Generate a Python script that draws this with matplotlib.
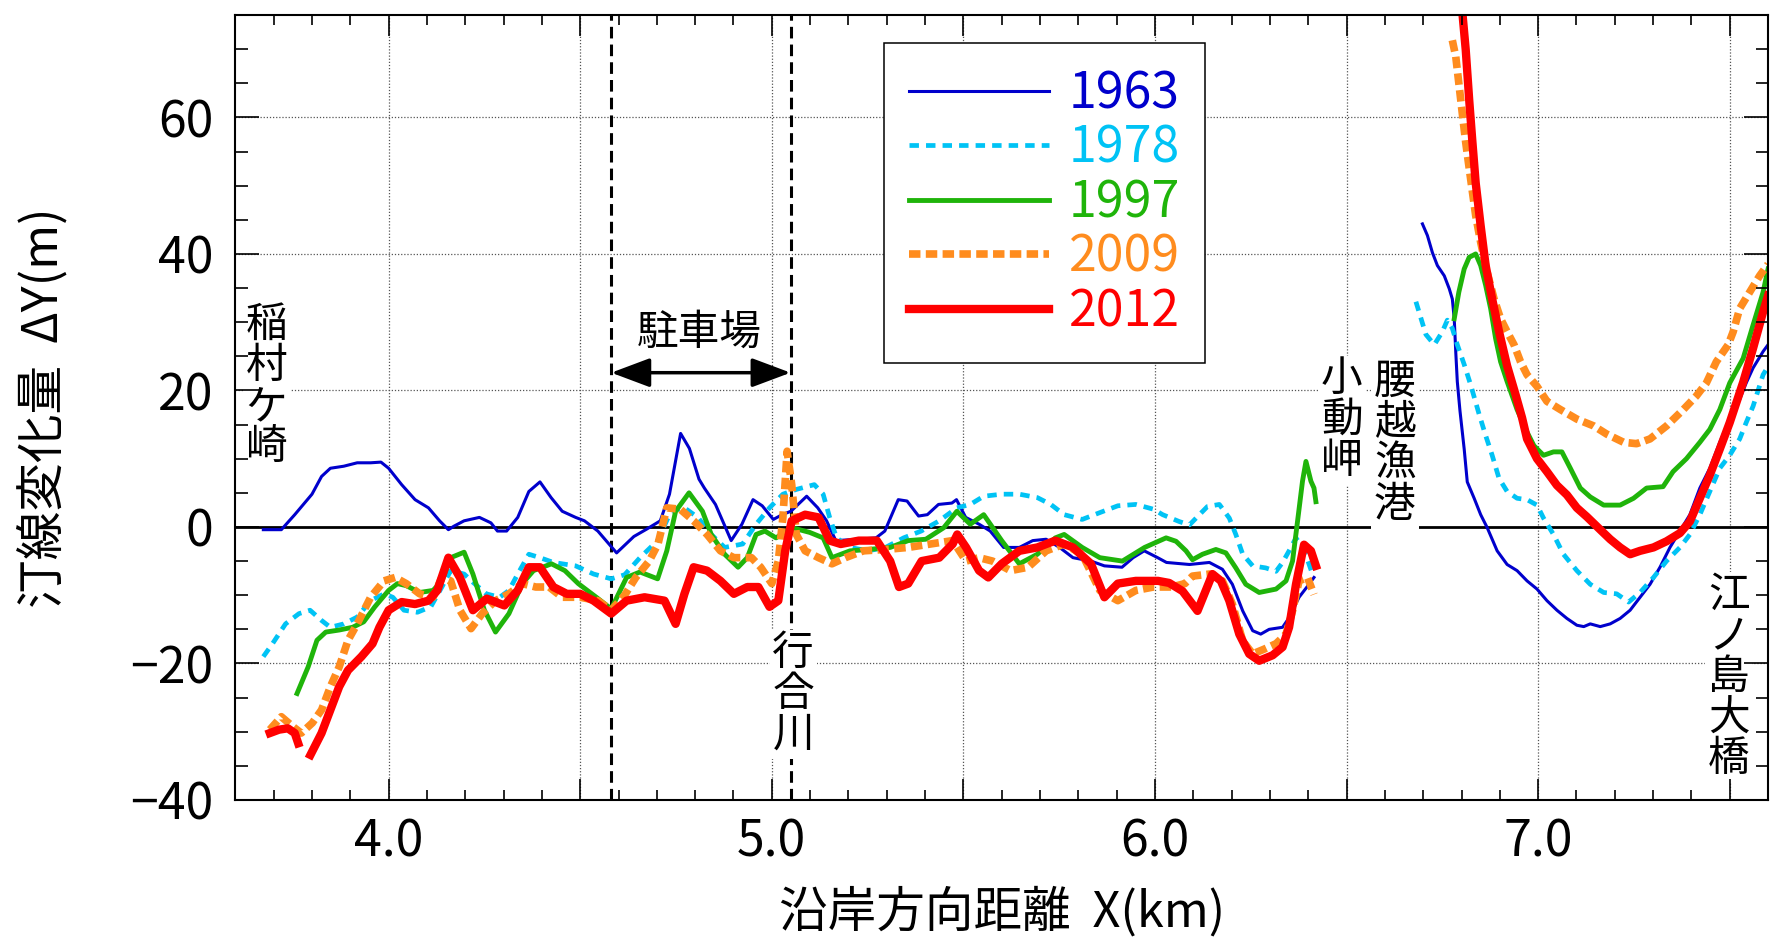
import numpy as np
import matplotlib
matplotlib.use("Agg")
import matplotlib.pyplot as plt
from matplotlib.ticker import MultipleLocator, FuncFormatter

plt.rcParams['font.family'] = ['Noto Sans CJK JP', 'DejaVu Sans']

# 汀線変化量 (x km, dY m) - left = 稲村ケ崎〜小動岬, right = 腰越漁港〜江ノ島大橋
y1963_left = np.array([
    [3.673, -0.4], [3.72, -0.4], [3.755, 1.8], [3.80, 4.8], [3.825, 7.4], [3.848, 8.6],
    [3.883, 8.9], [3.918, 9.4], [3.953, 9.4], [3.98, 9.5], [4.0, 8.6], [4.034, 6.2],
    [4.069, 4.0], [4.104, 2.8], [4.133, 0.9], [4.156, -0.4], [4.17, 0.1], [4.197, 0.9],
    [4.237, 1.4], [4.267, 0.6], [4.284, -0.6], [4.308, -0.6], [4.337, 1.4], [4.366, 5.2],
    [4.395, 6.6], [4.424, 4.3], [4.453, 2.3], [4.488, 1.4], [4.511, 0.9], [4.546, -0.6],
    [4.595, -3.8], [4.64, -1.4], [4.674, -0.3], [4.709, 0.9], [4.733, 4.8], [4.762, 13.7],
    [4.785, 11.5], [4.81, 7.0], [4.824, 5.7], [4.853, 3.3], [4.894, -2.0], [4.922, 0.4],
    [4.951, 4.0], [4.975, 3.1], [5.004, 1.1], [5.027, 1.8], [5.05, 2.3], [5.091, 4.5],
    [5.12, 2.8], [5.143, 0.9], [5.167, -2.0], [5.225, -1.8], [5.272, -1.6], [5.295, -0.6],
    [5.33, 4.0], [5.353, 3.8], [5.383, 1.6], [5.406, 1.8], [5.435, 3.3], [5.47, 3.5],
    [5.482, 4.0], [5.506, 1.4], [5.541, 0.4], [5.57, -0.6], [5.605, -3.0], [5.646, -3.0],
    [5.681, -2.0], [5.716, -1.8], [5.751, -3.0], [5.786, -4.5], [5.833, -5.0], [5.868, -5.7],
    [5.914, -5.9], [5.943, -4.5], [5.972, -3.5], [6.007, -4.5], [6.03, -5.2], [6.09, -5.5],
    [6.142, -5.2], [6.176, -6.2], [6.202, -8.4], [6.229, -12.3], [6.255, -15.2], [6.276, -15.7],
    [6.298, -15.0], [6.333, -14.7], [6.35, -13.3], [6.376, -10.3], [6.402, -8.4], [6.415, -7.4]])
y1963_right = np.array([
    [6.698, 44.4], [6.711, 42.7], [6.724, 40.2], [6.737, 38.3], [6.755, 36.8], [6.768, 34.9],
    [6.776, 33.4], [6.781, 30.5], [6.785, 25.6], [6.789, 21.3], [6.796, 17.0], [6.807, 11.4],
    [6.815, 6.6], [6.833, 4.2], [6.85, 1.8], [6.867, -0.1], [6.893, -3.5], [6.919, -5.5],
    [6.945, -6.4], [6.971, -7.9], [6.997, -9.1], [7.023, -10.8], [7.049, -12.2], [7.075, -13.4],
    [7.101, -14.4], [7.119, -14.6], [7.136, -14.2], [7.162, -14.6], [7.188, -14.2], [7.214, -13.4],
    [7.24, -12.2], [7.266, -10.3], [7.292, -8.4], [7.318, -5.9], [7.344, -3.0], [7.37, -0.6],
    [7.396, 1.8], [7.422, 5.7], [7.448, 8.6], [7.474, 12.4], [7.5, 15.8], [7.526, 18.7],
    [7.543, 21.1], [7.561, 23.3], [7.587, 25.7], [7.6, 26.7]])

y1978_left = np.array([
    [3.673, -19.0], [3.697, -17.1], [3.731, -14.2], [3.766, -12.7], [3.795, -12.2], [3.825, -13.7],
    [3.848, -14.7], [3.883, -14.2], [3.918, -13.2], [3.953, -10.8], [3.988, -9.8], [4.011, -10.3],
    [4.04, -12.2], [4.075, -12.5], [4.11, -11.7], [4.139, -8.8], [4.162, -6.4], [4.197, -6.9],
    [4.22, -8.1], [4.255, -9.8], [4.29, -10.3], [4.314, -9.3], [4.337, -6.9], [4.366, -4.0],
    [4.395, -4.5], [4.43, -5.2], [4.488, -5.7], [4.535, -6.9], [4.581, -7.6], [4.616, -7.0],
    [4.656, -4.5], [4.702, -2.0], [4.737, 2.3], [4.772, 2.8], [4.807, 1.4], [4.842, -1.1],
    [4.877, -3.0], [4.924, -2.5], [4.959, 0.4], [4.994, 2.8], [5.029, 4.8], [5.064, 5.5],
    [5.111, 6.2], [5.134, 4.8], [5.151, 1.4], [5.169, -1.6], [5.204, -3.0], [5.251, -3.5],
    [5.297, -3.0], [5.344, -1.6], [5.39, -0.6], [5.437, 0.9], [5.483, 2.8], [5.518, 3.3],
    [5.553, 4.5], [5.6, 4.8], [5.646, 4.8], [5.693, 4.3], [5.728, 3.3], [5.763, 1.8],
    [5.81, 1.1], [5.856, 2.1], [5.903, 3.1], [5.95, 3.3], [5.996, 2.6], [6.02, 1.8],
    [6.063, 0.8], [6.09, 0.3], [6.116, 1.8], [6.137, 3.0], [6.168, 3.3], [6.194, 1.3],
    [6.211, -1.1], [6.229, -4.0], [6.255, -5.7], [6.289, -6.0], [6.316, -6.5], [6.333, -5.2],
    [6.35, -3.5], [6.368, -1.6], [6.39, -3.5], [6.411, -6.9]])
y1978_right = np.array([
    [6.681, 33.0], [6.694, 30.6], [6.707, 28.2], [6.729, 26.7], [6.75, 28.6], [6.763, 30.3],
    [6.776, 29.1], [6.789, 26.7], [6.807, 23.8], [6.824, 20.8], [6.846, 16.5], [6.863, 13.4],
    [6.88, 10.5], [6.898, 7.1], [6.919, 5.2], [6.945, 4.2], [6.971, 4.0], [6.997, 3.2],
    [7.014, 1.3], [7.04, -1.1], [7.066, -4.0], [7.101, -6.4], [7.136, -8.4], [7.171, -9.6],
    [7.205, -9.8], [7.236, -11.0], [7.266, -9.6], [7.301, -7.4], [7.335, -5.0], [7.37, -3.0],
    [7.396, -1.1], [7.422, 1.8], [7.448, 5.2], [7.474, 8.6], [7.5, 10.5], [7.526, 12.9],
    [7.543, 15.3], [7.561, 17.7], [7.587, 22.3], [7.6, 23.5]])

y1997_left = np.array([
    [3.761, -24.4], [3.79, -20.5], [3.813, -16.6], [3.836, -15.4], [3.871, -15.1], [3.906, -14.7],
    [3.935, -13.9], [3.964, -11.7], [4.0, -9.3], [4.023, -8.3], [4.046, -8.6], [4.081, -9.6],
    [4.116, -9.3], [4.139, -7.9], [4.162, -4.5], [4.197, -3.7], [4.22, -6.9], [4.25, -12.2],
    [4.279, -15.4], [4.314, -12.7], [4.349, -8.3], [4.378, -6.4], [4.425, -5.4], [4.46, -6.4],
    [4.495, -8.3], [4.542, -10.3], [4.581, -12.0], [4.621, -7.4], [4.656, -6.6], [4.702, -7.6],
    [4.726, -3.5], [4.749, 2.3], [4.784, 5.0], [4.819, 2.3], [4.842, -1.1], [4.877, -4.0],
    [4.912, -5.9], [4.936, -4.5], [4.959, -1.1], [4.982, -0.6], [5.011, -1.6], [5.052, -0.1],
    [5.099, -0.8], [5.134, -1.6], [5.157, -4.5], [5.204, -3.5], [5.251, -3.3], [5.309, -3.0],
    [5.356, -2.0], [5.402, -1.8], [5.449, -0.1], [5.483, 2.3], [5.518, 0.4], [5.553, 1.8],
    [5.6, -2.0], [5.646, -5.4], [5.693, -4.0], [5.74, -1.6], [5.763, -1.1], [5.81, -3.0],
    [5.856, -4.5], [5.915, -5.0], [5.973, -3.0], [6.029, -1.6], [6.055, -2.1], [6.081, -3.5],
    [6.098, -4.8], [6.124, -4.0], [6.159, -3.3], [6.185, -3.8], [6.211, -6.0], [6.237, -8.4],
    [6.272, -9.6], [6.316, -9.1], [6.342, -7.9], [6.359, -5.0], [6.372, 0.8], [6.385, 6.7],
    [6.394, 9.6], [6.407, 6.7], [6.415, 5.7], [6.42, 3.7]])
y1997_right = np.array([
    [6.781, 30.5], [6.793, 34.4], [6.807, 37.8], [6.82, 39.5], [6.837, 40.0], [6.85, 38.3],
    [6.863, 35.4], [6.876, 32.0], [6.889, 27.6], [6.902, 24.2], [6.919, 21.3], [6.945, 17.2],
    [6.971, 13.9], [6.989, 11.9], [7.014, 10.5], [7.04, 11.0], [7.062, 11.0], [7.084, 8.6],
    [7.11, 5.7], [7.136, 4.4], [7.171, 3.2], [7.214, 3.2], [7.249, 4.2], [7.283, 5.7],
    [7.326, 5.9], [7.352, 8.1], [7.387, 10.0], [7.422, 12.4], [7.448, 14.3], [7.474, 17.2],
    [7.5, 21.1], [7.535, 24.7], [7.561, 29.6], [7.587, 34.4], [7.6, 37.8]])

y2009_left = np.array([
    [3.69, -29.7], [3.72, -27.8], [3.749, -29.2], [3.772, -30.2], [3.801, -28.7], [3.825, -26.8],
    [3.848, -23.4], [3.871, -20.5], [3.894, -16.6], [3.918, -14.2], [3.953, -10.3], [3.988, -7.9],
    [4.017, -7.4], [4.046, -8.3], [4.081, -9.8], [4.116, -10.3], [4.139, -7.4], [4.162, -7.9],
    [4.186, -12.2], [4.215, -14.9], [4.244, -12.7], [4.279, -10.8], [4.314, -9.8], [4.349, -8.3],
    [4.384, -8.8], [4.419, -8.8], [4.453, -10.3], [4.5, -10.3], [4.546, -10.8], [4.581, -12.2],
    [4.616, -10.0], [4.645, -7.4], [4.68, -5.0], [4.703, -2.5], [4.726, 2.8], [4.761, 2.6],
    [4.796, 0.9], [4.831, -1.1], [4.866, -3.5], [4.901, -4.5], [4.947, -4.5], [4.971, -5.9],
    [5.0, -8.3], [5.017, -5.0], [5.029, 1.4], [5.04, 11.1], [5.052, 6.2], [5.064, -1.1],
    [5.087, -3.5], [5.122, -4.5], [5.157, -5.4], [5.192, -4.5], [5.239, -3.5], [5.297, -3.3],
    [5.356, -3.0], [5.414, -2.5], [5.472, -2.0], [5.507, -5.0], [5.541, -4.5], [5.576, -5.0],
    [5.623, -6.4], [5.669, -5.9], [5.716, -3.5], [5.763, -2.5], [5.81, -4.0], [5.856, -9.3],
    [5.903, -10.8], [5.95, -9.3], [5.996, -8.8], [6.043, -8.8], [6.078, -8.3], [6.098, -7.2],
    [6.142, -6.9], [6.176, -7.9], [6.202, -11.3], [6.229, -16.7], [6.255, -18.6], [6.285, -17.9],
    [6.316, -17.1], [6.342, -15.7], [6.359, -12.3], [6.376, -7.9], [6.398, -7.4], [6.415, -9.9]])
y2009_right = np.array([
    [6.776, 71.3], [6.785, 68.9], [6.794, 64.5], [6.802, 60.6], [6.811, 56.3], [6.824, 50.9],
    [6.837, 45.6], [6.85, 41.7], [6.867, 37.3], [6.885, 33.4], [6.902, 30.5], [6.919, 28.6],
    [6.937, 26.7], [6.954, 24.2], [6.971, 22.3], [6.997, 20.6], [7.023, 18.4], [7.058, 17.2],
    [7.101, 15.8], [7.145, 14.8], [7.179, 13.6], [7.223, 12.4], [7.257, 12.2], [7.292, 12.9],
    [7.335, 14.8], [7.379, 17.2], [7.413, 19.2], [7.439, 21.1], [7.465, 24.2], [7.496, 26.7],
    [7.509, 28.6], [7.526, 32.0], [7.552, 34.4], [7.578, 36.8], [7.6, 38.5]])

y2012_left = np.array([
    [3.69, -30.2], [3.714, -29.7], [3.737, -29.5], [3.755, -30.2], [3.764, -31.7], [np.nan, np.nan],
    [3.796, -33.4], [3.825, -30.2], [3.848, -26.8], [3.871, -23.4], [3.894, -21.0], [3.929, -19.0],
    [3.958, -17.1], [3.976, -14.7], [4.0, -12.2], [4.034, -11.0], [4.069, -11.3], [4.104, -10.8],
    [4.127, -9.3], [4.156, -4.5], [4.186, -7.4], [4.22, -12.2], [4.256, -10.5], [4.302, -11.5],
    [4.337, -9.3], [4.366, -5.9], [4.395, -5.9], [4.43, -8.8], [4.465, -9.8], [4.5, -9.8],
    [4.535, -10.8], [4.581, -12.7], [4.621, -10.8], [4.668, -10.3], [4.72, -10.8], [4.749, -14.2],
    [4.772, -9.8], [4.796, -5.9], [4.831, -6.4], [4.866, -7.9], [4.901, -9.8], [4.936, -8.8],
    [4.965, -8.8], [4.994, -11.7], [5.017, -10.8], [5.035, -3.5], [5.052, 0.9], [5.087, 1.8],
    [5.122, 1.4], [5.151, -2.0], [5.18, -2.5], [5.227, -2.0], [5.274, -2.0], [5.309, -5.0],
    [5.332, -8.8], [5.356, -8.3], [5.391, -5.0], [5.437, -4.5], [5.472, -2.5], [5.484, -1.1],
    [5.507, -3.0], [5.541, -6.4], [5.565, -7.4], [5.6, -5.4], [5.646, -3.5], [5.693, -3.0],
    [5.74, -2.0], [5.786, -3.0], [5.833, -5.4], [5.868, -10.3], [5.903, -8.3], [5.95, -7.9],
    [6.008, -7.9], [6.037, -8.2], [6.072, -9.4], [6.111, -12.3], [6.15, -6.9], [6.172, -7.9],
    [6.194, -10.8], [6.22, -15.7], [6.246, -18.6], [6.272, -19.6], [6.307, -18.8], [6.333, -17.6],
    [6.35, -14.7], [6.368, -8.4], [6.389, -2.6], [6.407, -3.5], [6.42, -5.7]])
y2012_right = np.array([
    [6.802, 75.5], [6.811, 69.9], [6.820, 62.6], [6.828, 56.7], [6.837, 50.4], [6.85, 44.1],
    [6.863, 38.3], [6.88, 33.4], [6.898, 28.6], [6.919, 23.6], [6.941, 19.4], [6.958, 16.0],
    [6.971, 12.9], [6.997, 10.0], [7.023, 8.1], [7.049, 6.1], [7.075, 4.7], [7.101, 2.8],
    [7.127, 1.5], [7.162, -0.4], [7.188, -1.8], [7.214, -3.0], [7.24, -4.0], [7.266, -3.5],
    [7.301, -3.0], [7.335, -2.1], [7.37, -0.9], [7.396, 0.8], [7.422, 4.2], [7.448, 7.6],
    [7.474, 11.4], [7.5, 15.3], [7.535, 21.2], [7.561, 26.2], [7.587, 31.5], [7.6, 33.9]])

years = ["1963", "1978", "1997", "2009", "2012"]
segments = [(y1963_left, y1963_right), (y1978_left, y1978_right), (y1997_left, y1997_right),
            (y2009_left, y2009_right), (y2012_left, y2012_right)]
styles = [
    dict(color="#0000CC", lw=2.2, ls="-"),
    dict(color="#00C3F5", lw=3.4, ls=(0, (2.0, 1.5))),
    dict(color="#1FB40A", lw=3.5, ls="-"),
    dict(color="#FF8C1E", lw=5.5, ls=(0, (1.5, 0.7))),
    dict(color="#FF0000", lw=6.0, ls="-"),
]

# 駐車場の範囲、行合川
parking = [4.581, 5.049]

fig = plt.figure(figsize=(17.87, 9.51), dpi=100)
ax = fig.add_axes([0.1317, 0.1588, 0.8577, 0.8254])
ax.set_xlim(3.6, 7.6)
ax.set_ylim(-40, 75)

# グリッド(点線)
for gx in np.arange(4.0, 7.6, 0.5):
    ax.axvline(gx, color="#555555", lw=0.9, ls=(0, (1, 1.5)), zorder=1)
for gy in [-20, 20, 40, 60]:
    ax.axhline(gy, color="#555555", lw=0.9, ls=(0, (1, 1.5)), zorder=1)
ax.axhline(0, color="black", lw=2.0, zorder=1.8)
for px in parking:
    ax.axvline(px, color="black", lw=2.2, ls=(0, (3.8, 2.0)), zorder=1.9)

handles = []
for year, (left, right), st in zip(years, segments, styles):
    h, = ax.plot(left[:, 0], left[:, 1], label=year, zorder=2, **st)
    ax.plot(right[:, 0], right[:, 1], zorder=2, **st)
    handles.append(h)

# 駐車場の矢印
ax.annotate("", xy=(parking[0], 22.6), xytext=(parking[1], 22.6),
            arrowprops=dict(arrowstyle="<|-|>,head_length=0.8,head_width=0.3",
                            mutation_scale=30, lw=2.5, color="black",
                            shrinkA=0, shrinkB=0), zorder=2.4)
ax.text(4.81, 28.4, "駐車場", ha="center", va="center", fontsize=30, zorder=2.4)

box = dict(facecolor="white", edgecolor="none", pad=2)


def tate(x, y, s, **kw):
    ax.text(x, y, "\n".join(s), ha="center", va="center", fontsize=30,
            linespacing=1.0, bbox=box, zorder=2.4, **kw)


tate(3.681, 20.5, "稲村ケ崎")
tate(5.056, -24.5, "行合川", style="italic")
tate(6.487, 15.6, "小動岬")
tate(6.626, 12.2, "腰越漁港", style="italic")
tate(7.497, -22.1, "江ノ島大橋")

# 軸
ax.set_axisbelow(False)
ax.xaxis.set_major_locator(MultipleLocator(0.5))
ax.xaxis.set_minor_locator(MultipleLocator(0.1))
ax.xaxis.set_major_formatter(FuncFormatter(
    lambda v, p: f"{v:.1f}" if abs(v - round(v)) < 1e-6 else ""))
ax.yaxis.set_major_locator(MultipleLocator(20))
ax.yaxis.set_minor_locator(MultipleLocator(5))
ax.tick_params(which="both", direction="in", top=True, right=True, width=1.2, labelsize=36)
ax.tick_params(axis="x", which="major", length=15, pad=12)
ax.tick_params(axis="x", which="minor", length=7.5)
ax.tick_params(axis="y", which="major", length=17, pad=16)
ax.tick_params(axis="y", which="minor", length=9)
for sp in ax.spines.values():
    sp.set_linewidth(1.5)

ax.set_xlabel("沿岸方向距離  X(km)", fontsize=35)
ax.set_ylabel("汀線変化量  ΔY(m)", fontsize=35)
ax.xaxis.set_label_coords(0.5, -0.1427)
ax.xaxis.label.set_va("center")
ax.yaxis.set_label_coords(-0.1255, 0.5)
ax.yaxis.label.set_va("center")

leg = ax.legend(handles=handles, loc="upper left", bbox_to_anchor=(0.423, 0.964),
                borderaxespad=0, fontsize=36, labelcolor="linecolor",
                handlelength=2.8, handletextpad=0.4, borderpad=0.5,
                labelspacing=0.05, fancybox=False, framealpha=1, edgecolor="black")
leg.get_frame().set_linewidth(1.1)
leg.set_zorder(5)

fig.savefig("out.png", dpi=100)
